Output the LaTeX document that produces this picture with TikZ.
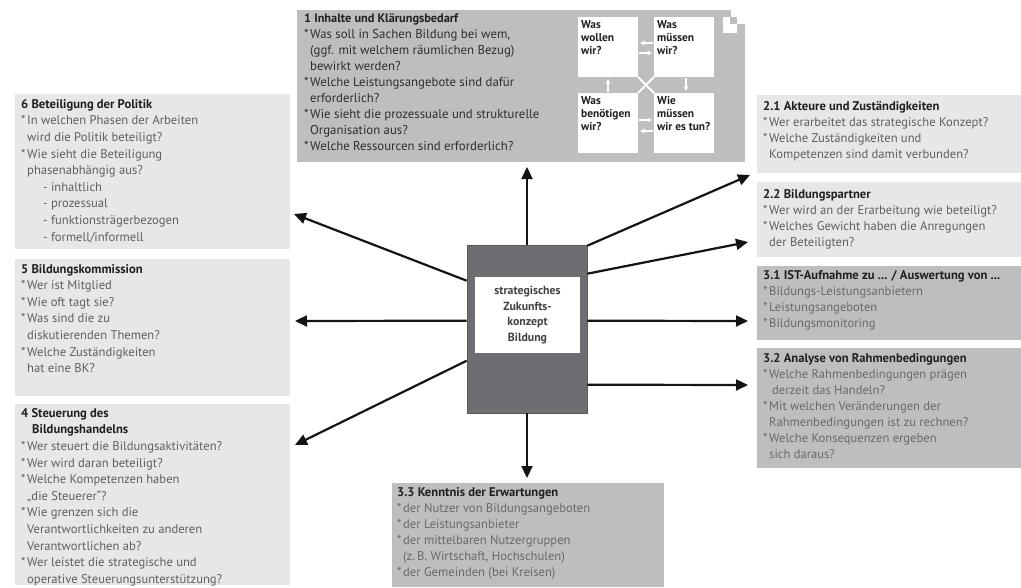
\documentclass[tikz,border=0pt]{standalone}
\usepackage{fontspec}
\setmainfont{PT Sans}
\usetikzlibrary{arrows.meta}
\definecolor{lightbox}{HTML}{E6E7E8}
\definecolor{midbox}{HTML}{BCBEC0}
\definecolor{darkbox}{HTML}{6D6E71}
\definecolor{bultxt}{HTML}{5E5F62}
\definecolor{bultxtb}{HTML}{68696C}
\definecolor{titletxt}{HTML}{231F20}
\definecolor{onetxt}{HTML}{2E2E30}
\definecolor{centtxt}{HTML}{414042}
\newcommand{\st}{\makebox[6pt][l]{*}}
\newcommand{\ind}{\hspace*{6pt}}
\newcommand{\ttl}[1]{{\bfseries\color{titletxt}#1}}
\begin{document}
\begin{tikzpicture}[x=1pt,y=-1pt,
  panel/.style={inner sep=0pt, outer sep=0pt, anchor=north west, draw=none},
  lightpanel/.style={panel, fill=lightbox},
  midpanel/.style={panel, fill=midbox},
  txt/.style={anchor=north west, inner sep=0pt, align=left, font=\fontsize{12.6}{16}\selectfont, text=bultxt},
  txtleft/.style={txt, font=\fontsize{12.6}{16.6}\selectfont},
  txtb/.style={txt, text=bultxtb},
  txtone/.style={txt, font=\fontsize{12.8}{16}\selectfont, text=onetxt},
  bigarrow/.style={line width=2.2pt, draw=black!92, -{Triangle[length=12pt,width=11pt]}},
  whitearrow/.style={draw=white, line width=1.1pt, -{Triangle[length=4.5pt,width=4.5pt]}},
  qbox/.style={fill=white, inner sep=0pt, outer sep=0pt, anchor=north west, minimum width=60pt, minimum height=60pt},
  qtxt/.style={anchor=north west, inner sep=0pt, align=left, font=\bfseries\fontsize{11.4}{13}\selectfont, text=titletxt}
]
\useasboundingbox (0,0) rectangle (1021,587);

% ---------- box 1 ----------
\node[midpanel, minimum width=448pt, minimum height=152pt] (b1) at (297,10) {};
\fill[white] (731,9) rectangle (746,24);
\fill[white] (723,17) rectangle (737,33);
\fill[midbox] (730,17) rectangle (737,24);
\node[txtone] (t1) at (304,13) {{\fontsize{12.3}{16}\selectfont\ttl{1 Inhalte und Klärungsbedarf}}\\
\st Was soll in Sachen Bildung bei wem,\\
\ind(ggf. mit welchem räumlichen Bezug)\\
\ind bewirkt werden?\\
\st Welche Leistungsangebote sind dafür\\
\ind erforderlich?\\
\st Wie sieht die prozessuale und strukturelle\\
\ind Organisation aus?\\
\st Welche Ressourcen sind erforderlich?};

\node[qbox] (q1) at (578,17) {};
\node[qbox] (q2) at (654,17) {};
\node[qbox] (q3) at (578,93) {};
\node[qbox] (q4) at (654,93) {};
\node[qtxt] (q1t) at (581,20) {Was\\wollen\\wir?};
\node[qtxt] (q2t) at (657,20) {Was\\müssen\\wir?};
\node[qtxt] (q3t) at (581,96) {Was\\benötigen\\wir?};
\node[qtxt] (q4t) at (657,96) {Wie\\müssen\\wir es tun?};
\draw[whitearrow] ([yshift=-26pt,xshift=-1pt]q2.north west) -- ([yshift=-26pt,xshift=2pt]q1.north east);
\draw[whitearrow] ([yshift=-36pt,xshift=1pt]q1.north east) -- ([yshift=-36pt,xshift=-2pt]q2.north west);
\draw[whitearrow] ([xshift=30pt,yshift=1pt]q3.north west) -- ([xshift=30pt,yshift=-2pt]q1.south west);
\draw[whitearrow] ([xshift=32pt,yshift=-1pt]q2.south west) -- ([xshift=32pt,yshift=2pt]q4.north west);
\draw[whitearrow] ([yshift=-27pt,xshift=1pt]q3.north east) -- ([yshift=-27pt,xshift=-2pt]q4.north west);
\draw[whitearrow] ([yshift=-38pt,xshift=-1pt]q4.north west) -- ([yshift=-38pt,xshift=2pt]q3.north east);
\draw[white, line width=1.8pt] (q1.south east) -- (q4.north west);
\draw[white, line width=1.8pt] (q2.south west) -- (q3.north east);

% ---------- left boxes ----------
\node[lightpanel, minimum width=275pt, minimum height=155pt] (b6) at (15,94) {};
\node[txtleft] (t6) at (21,99) {\ttl{6 Beteiligung der Politik}\\
\st In welchen Phasen der Arbeiten\\
\ind wird die Politik beteiligt?\\
\st Wie sieht die Beteiligung\\
\ind phasenabhängig aus?\\
\hspace*{22pt}- inhaltlich\\
\hspace*{22pt}- prozessual\\
\hspace*{22pt}- funktionsträgerbezogen\\
\hspace*{22pt}- formell/informell};

\node[lightpanel, minimum width=275pt, minimum height=137pt] (b5) at (15,259) {};
\node[txtleft] (t5) at (21,264) {\ttl{5 Bildungskommission}\\
\st Wer ist Mitglied\\
\st Wie oft tagt sie?\\
\st Was sind die zu\\
\ind diskutierenden Themen?\\
\st Welche Zuständigkeiten\\
\ind hat eine BK?};

\node[lightpanel, minimum width=275pt, minimum height=181pt] (b4) at (15,404) {};
\node[txtleft] (t4) at (21,408) {\ttl{4 Steuerung des}\\
\ttl{\hspace*{11pt}Bildungshandelns}\\
\st Wer steuert die Bildungsaktivitäten?\\
\st Wer wird daran beteiligt?\\
\st Welche Kompetenzen haben\\
\ind „die Steuerer“?\\
\st Wie grenzen sich die\\
\ind Verantwortlichkeiten zu anderen\\
\ind Verantwortlichen ab?\\
\st Wer leistet die strategische und\\
\ind operative Steuerungsunterstützung?};

% ---------- right boxes ----------
\node[lightpanel, minimum width=266pt, minimum height=78pt] (b21) at (757,95) {};
\node[txt] (t21) at (763,101) {\ttl{2.1 Akteure und Zuständigkeiten}\\
\st Wer erarbeitet das strategische Konzept?\\
\st Welche Zuständigkeiten und\\
\ind Kompetenzen sind damit verbunden?};

\node[lightpanel, minimum width=266pt, minimum height=75pt] (b22) at (757,182) {};
\node[txt] (t22) at (763,189) {\ttl{2.2 Bildungspartner}\\
\st Wer wird an der Erarbeitung wie beteiligt?\\
\st Welches Gewicht haben die Anregungen\\
\ind der Beteiligten?};

\node[midpanel, minimum width=266pt, minimum height=74pt] (b31) at (757,266) {};
\node[txtb] (t31) at (763,270) {\ttl{3.1 IST-Aufnahme zu ... / Auswertung von ...}\\
\st Bildungs-Leistungsanbietern\\
\st Leistungsangeboten\\
\st Bildungsmonitoring};

\node[midpanel, minimum width=266pt, minimum height=120pt] (b32) at (757,348) {};
\node[txtb] (t32) at (763,353) {\ttl{3.2 Analyse von Rahmenbedingungen}\\
\st Welche Rahmenbedingungen prägen\\
\ind\hspace*{3pt}derzeit das Handeln?\\
\st Mit welchen Veränderungen der\\
\ind Rahmenbedingungen ist zu rechnen?\\
\st Welche Konsequenzen ergeben\\
\ind sich daraus?};

% ---------- bottom box ----------
\node[midpanel, minimum width=272pt, minimum height=104pt] (b33) at (392,483) {};
\node[txtb] (t33) at (397,487) {\ttl{3.3 Kenntnis der Erwartungen}\\
\st der Nutzer von Bildungsangeboten\\
\st der Leistungsanbieter\\
\st der mittelbaren Nutzergruppen\\
\ind(z.\,B. Wirtschaft, Hochschulen)\\
\st der Gemeinden (bei Kreisen)};

% ---------- centre ----------
\node[fill=darkbox, draw=black!65, line width=0.6pt, inner sep=0pt, minimum width=120pt, minimum height=168pt] (c) at (527,329) {};
\node[fill=white, inner sep=0pt, minimum width=105pt, minimum height=76pt, align=center,
      font=\bfseries\fontsize{11.8}{15.6}\selectfont, text=centtxt] (ct) at (527.5,315) {strategisches\\Zukunfts-\\konzept\\Bildung};

% arrow tips
\coordinate (pU) at (527,167);
\coordinate (pD) at (527,478);
\coordinate (pL) at (295,321);
\coordinate (pR) at (748,321);
\coordinate (pR2) at (748,385);
\coordinate (pUR1) at (750,175);
\coordinate (pUR2) at (748,242);
\coordinate (pUL) at (294,214);
\coordinate (pLL) at (295,445);

\draw[bigarrow] (c.north) -- (pU);
\draw[bigarrow] (c.south) -- (pD);
\draw[bigarrow] ([yshift=-76pt]c.north west) -- (pL);
\draw[bigarrow] ([yshift=-76pt]c.north east) -- (pR);
\draw[bigarrow] ([yshift=-140pt]c.north east) -- (pR2);
\draw[bigarrow] ([yshift=-1pt]c.north east) -- (pUR1);
\draw[bigarrow] ([yshift=-29pt]c.north east) -- (pUR2);
\draw[bigarrow] ([yshift=-36pt]c.north west) -- (pUL);
\draw[bigarrow] ([yshift=-116pt]c.north west) -- (pLL);
\end{tikzpicture}
\end{document}
